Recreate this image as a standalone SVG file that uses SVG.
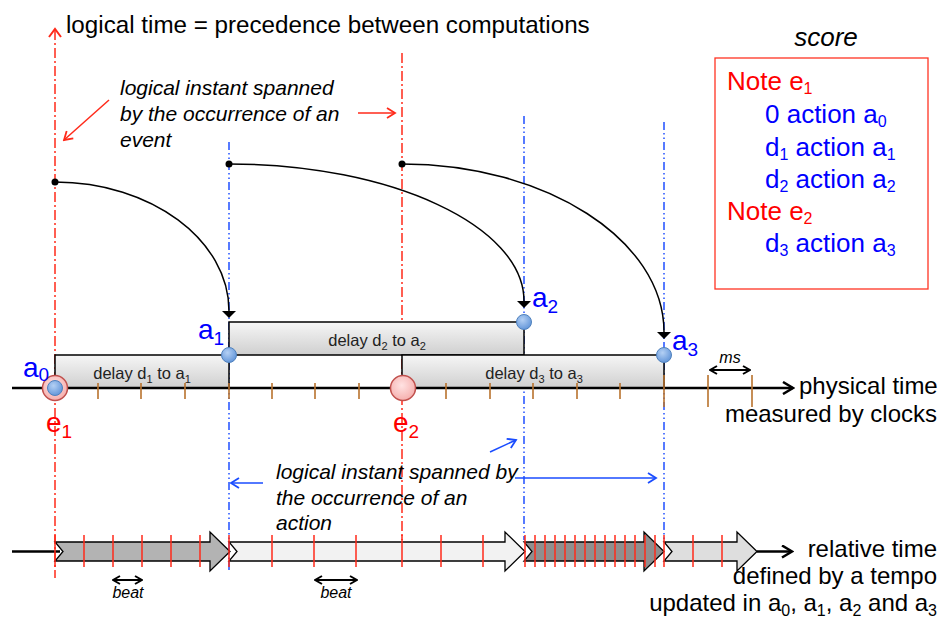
<svg xmlns="http://www.w3.org/2000/svg" width="941" height="621" viewBox="0 0 941 621">
<defs>
<style>
text{font-family:"Liberation Sans",Arial,sans-serif;}
.it{font-style:italic;}
.rdash{stroke:#ff2a1a;stroke-width:1.5;stroke-dasharray:10 3 2 3;fill:none;}
.bdash{stroke:#1f4fff;stroke-width:1.5;stroke-dasharray:8 3 1.5 3 1.5 3;fill:none;}
.ptick{stroke:#b8722c;stroke-width:1.6;}
.rtick{stroke:#ff2a1a;stroke-width:1.5;}
.delay{fill:url(#gDelay);stroke:#000;stroke-width:1.5;}
.blk{stroke:#000;stroke-width:1.3;}
.curve{fill:none;stroke:#000;stroke-width:1.5;}
.red{fill:#ff0000;}
.blue{fill:#0000ff;}
</style>
<linearGradient id="gDelay" x1="0" y1="0" x2="0" y2="1"><stop offset="0" stop-color="#f6f6f6"/><stop offset="1" stop-color="#cfcfcf"/></linearGradient>
<radialGradient id="gBlue" cx="0.4" cy="0.35" r="0.7"><stop offset="0" stop-color="#b4d0f4"/><stop offset="1" stop-color="#5f93d8"/></radialGradient>
<radialGradient id="gPink" cx="0.45" cy="0.4" r="0.7"><stop offset="0" stop-color="#ffe2e2"/><stop offset="1" stop-color="#f4a7a5"/></radialGradient>
<marker id="hK" viewBox="0 0 14 14" refX="12" refY="7" markerWidth="14" markerHeight="14" markerUnits="userSpaceOnUse" orient="auto-start-reverse"><path d="M2,1 L12,7 L2,13" fill="none" stroke="#000" stroke-width="2.5"/></marker>
<marker id="hKs" viewBox="0 0 10 10" refX="9" refY="5" markerWidth="10" markerHeight="10" markerUnits="userSpaceOnUse" orient="auto-start-reverse"><path d="M2,1 L9,5 L2,9" fill="none" stroke="#000" stroke-width="2"/></marker>
<marker id="hR" viewBox="0 0 12 12" refX="10" refY="6" markerWidth="12" markerHeight="12" markerUnits="userSpaceOnUse" orient="auto"><path d="M2,1 L10,6 L2,11" fill="none" stroke="#ff2a1a" stroke-width="1.8"/></marker>
<marker id="hB" viewBox="0 0 12 12" refX="10" refY="6" markerWidth="12" markerHeight="12" markerUnits="userSpaceOnUse" orient="auto"><path d="M2,1 L10,6 L2,11" fill="none" stroke="#1a4cff" stroke-width="1.8"/></marker>
</defs>
<rect width="941" height="621" fill="#fff"/>

<g id="vertical-lines">
<line class="rdash" x1="55" y1="30" x2="55" y2="578"/>
<polyline points="49,37 55,29 61,37" fill="none" stroke="#ff2a1a" stroke-width="2"/>
<line class="bdash" x1="229" y1="142" x2="229" y2="571"/>
<line class="rdash" x1="402" y1="53" x2="402" y2="540"/>
<line class="bdash" x1="524" y1="116" x2="524" y2="540"/>
<line class="bdash" x1="664" y1="122" x2="664" y2="540"/>
</g>

<g id="relative-time-axis">
<line x1="12" y1="551.5" x2="60" y2="551.5" stroke="#000" stroke-width="2.5"/>
<path class="blk" fill="#b3b3b3" d="M55,542 L210,542 L210,532 L230,551.5 L210,571 L210,561 L55,561 L63,551.5 Z"/>
<path class="blk" fill="#f2f2f2" d="M229,542 L505,542 L505,532 L525,551.5 L505,571 L505,561 L229,561 L237,551.5 Z"/>
<path class="blk" fill="#8f8f8f" d="M524,542 L644,542 L644,532 L664,551.5 L644,571 L644,561 L524,561 L532,551.5 Z"/>
<path class="blk" fill="#dedede" d="M664,542 L737,542 L737,532 L757,551.5 L737,571 L737,561 L664,561 L672,551.5 Z"/>
<line x1="757" y1="551.5" x2="792" y2="551.5" stroke="#000" stroke-width="2.5" marker-end="url(#hK)"/>
<g id="beat-ticks">
<line class="rtick" x1="55" y1="535" x2="55" y2="567"/>
<line class="rtick" x1="84" y1="535" x2="84" y2="567"/>
<line class="rtick" x1="113" y1="535" x2="113" y2="567"/>
<line class="rtick" x1="142" y1="535" x2="142" y2="567"/>
<line class="rtick" x1="171" y1="535" x2="171" y2="567"/>
<line class="rtick" x1="200" y1="535" x2="200" y2="567"/>
<line class="rtick" x1="229" y1="535" x2="229" y2="567"/>
<line class="rtick" x1="272" y1="535" x2="272" y2="567"/>
<line class="rtick" x1="314" y1="535" x2="314" y2="567"/>
<line class="rtick" x1="356" y1="535" x2="356" y2="567"/>
<line class="rtick" x1="402" y1="535" x2="402" y2="567"/>
<line class="rtick" x1="441" y1="535" x2="441" y2="567"/>
<line class="rtick" x1="483" y1="535" x2="483" y2="567"/>
<line class="rtick" x1="525" y1="535" x2="525" y2="567"/>
<line class="rtick" x1="535" y1="535" x2="535" y2="567"/>
<line class="rtick" x1="545" y1="535" x2="545" y2="567"/>
<line class="rtick" x1="555" y1="535" x2="555" y2="567"/>
<line class="rtick" x1="565" y1="535" x2="565" y2="567"/>
<line class="rtick" x1="575" y1="535" x2="575" y2="567"/>
<line class="rtick" x1="585" y1="535" x2="585" y2="567"/>
<line class="rtick" x1="595" y1="535" x2="595" y2="567"/>
<line class="rtick" x1="605" y1="535" x2="605" y2="567"/>
<line class="rtick" x1="615" y1="535" x2="615" y2="567"/>
<line class="rtick" x1="625" y1="535" x2="625" y2="567"/>
<line class="rtick" x1="635" y1="535" x2="635" y2="567"/>
<line class="rtick" x1="645" y1="535" x2="645" y2="567"/>
<line class="rtick" x1="655" y1="535" x2="655" y2="567"/>
<line class="rtick" x1="664" y1="535" x2="664" y2="567"/>
<line class="rtick" x1="693" y1="535" x2="693" y2="567"/>
<line class="rtick" x1="722" y1="535" x2="722" y2="567"/>
</g>
<line x1="113" y1="580" x2="142" y2="580" stroke="#000" stroke-width="2" marker-start="url(#hKs)" marker-end="url(#hKs)"/>
<text class="it" x="128" y="598" font-size="16" text-anchor="middle">beat</text>
<line x1="315" y1="580" x2="357" y2="580" stroke="#000" stroke-width="2" marker-start="url(#hKs)" marker-end="url(#hKs)"/>
<text class="it" x="336" y="598" font-size="16" text-anchor="middle">beat</text>
<text x="937" y="557" font-size="24" text-anchor="end">relative time</text>
<text x="937" y="584" font-size="24" text-anchor="end">defined by a tempo</text>
<text x="937" y="611" font-size="24" text-anchor="end">updated in a<tspan font-size="16" dy="5">0</tspan><tspan dy="-5">, a</tspan><tspan font-size="16" dy="5">1</tspan><tspan dy="-5">, a</tspan><tspan font-size="16" dy="5">2</tspan><tspan dy="-5"> and a</tspan><tspan font-size="16" dy="5">3</tspan></text>
</g>

<g id="delay-d1">
<rect class="delay" x="55" y="355" width="174" height="33"/>
<text x="142" y="379" font-size="16.5" text-anchor="middle" fill="#222">delay d<tspan font-size="11" dy="4">1</tspan><tspan dy="-4"> to a</tspan><tspan font-size="11" dy="4">1</tspan></text>
</g>
<g id="delay-d2">
<rect class="delay" x="229" y="322" width="295" height="33"/>
<text x="377" y="346" font-size="16.5" text-anchor="middle" fill="#222">delay d<tspan font-size="11" dy="4">2</tspan><tspan dy="-4"> to a</tspan><tspan font-size="11" dy="4">2</tspan></text>
</g>
<g id="delay-d3">
<rect class="delay" x="402" y="355" width="262" height="33"/>
<text x="534" y="379" font-size="16.5" text-anchor="middle" fill="#222">delay d<tspan font-size="11" dy="4">3</tspan><tspan dy="-4"> to a</tspan><tspan font-size="11" dy="4">3</tspan></text>
</g>

<g id="physical-time-axis">
<line x1="12" y1="388" x2="793" y2="388" stroke="#000" stroke-width="2.5" marker-end="url(#hK)"/>
<line class="ptick" x1="98" y1="383" x2="98" y2="399"/>
<line class="ptick" x1="141" y1="383" x2="141" y2="399"/>
<line class="ptick" x1="185" y1="383" x2="185" y2="399"/>
<line class="ptick" x1="229" y1="383" x2="229" y2="399"/>
<line class="ptick" x1="272" y1="383" x2="272" y2="399"/>
<line class="ptick" x1="315" y1="383" x2="315" y2="399"/>
<line class="ptick" x1="359" y1="383" x2="359" y2="399"/>
<line class="ptick" x1="446" y1="383" x2="446" y2="399"/>
<line class="ptick" x1="490" y1="383" x2="490" y2="399"/>
<line class="ptick" x1="533" y1="383" x2="533" y2="399"/>
<line class="ptick" x1="577" y1="383" x2="577" y2="399"/>
<line class="ptick" x1="620" y1="383" x2="620" y2="399"/>
<line class="ptick" x1="664" y1="375" x2="664" y2="407"/>
<line class="ptick" x1="708" y1="375" x2="708" y2="407"/>
<line class="ptick" x1="752" y1="375" x2="752" y2="407"/>
<line x1="710" y1="370" x2="750" y2="370" stroke="#000" stroke-width="2" marker-start="url(#hKs)" marker-end="url(#hKs)"/>
<text class="it" x="730" y="363" font-size="16" text-anchor="middle">ms</text>
<text x="799" y="394" font-size="24">physical time</text>
<text x="937" y="422" font-size="24" text-anchor="end">measured by clocks</text>
</g>

<g id="connectors">
<path class="curve" d="M55,182 C151,182 229,240 229,311"/>
<polygon points="222,311 236,311 229,318" fill="#000"/>
<circle cx="55" cy="182" r="3.5" fill="#000"/>
<path class="curve" d="M229,164 C391,164 524,226 524,301"/>
<polygon points="517,301 531,301 524,308" fill="#000"/>
<circle cx="229" cy="164" r="3.5" fill="#000"/>
<path class="curve" d="M402,164 C546,164 664,240 664,332"/>
<polygon points="657,332 671,332 664,339" fill="#000"/>
<circle cx="402" cy="164" r="3.5" fill="#000"/>
<line x1="109" y1="100" x2="64" y2="140" stroke="#ff2a1a" stroke-width="1.5" marker-end="url(#hR)"/>
<line x1="358" y1="113" x2="395" y2="113" stroke="#ff2a1a" stroke-width="1.5" marker-end="url(#hR)"/>
<line x1="263" y1="483" x2="231" y2="483" stroke="#1a4cff" stroke-width="1.5" marker-end="url(#hB)"/>
<line x1="490" y1="452" x2="516" y2="440" stroke="#1a4cff" stroke-width="1.5" marker-end="url(#hB)"/>
<line x1="515" y1="478" x2="656" y2="478" stroke="#1a4cff" stroke-width="1.5" marker-end="url(#hB)"/>
</g>

<g id="e1">
<circle cx="55" cy="388" r="12.5" fill="url(#gPink)" stroke="#c0504d" stroke-width="1.5"/>
<text class="red" x="46" y="432" font-size="28">e<tspan font-size="19" dy="6">1</tspan></text>
</g>
<g id="a0">
<circle cx="55" cy="388" r="7.5" fill="url(#gBlue)" stroke="#4f81bd" stroke-width="1"/>
<text class="blue" x="23" y="377" font-size="28">a<tspan font-size="19" dy="4">0</tspan></text>
</g>
<g id="e2">
<circle cx="403" cy="388" r="12.5" fill="url(#gPink)" stroke="#c0504d" stroke-width="1.5"/>
<text class="red" x="393" y="432" font-size="28">e<tspan font-size="19" dy="6">2</tspan></text>
</g>
<g id="a1">
<circle cx="229" cy="355" r="7.5" fill="url(#gBlue)" stroke="#4f81bd" stroke-width="1"/>
<text class="blue" x="198" y="339" font-size="28">a<tspan font-size="19" dy="6">1</tspan></text>
</g>
<g id="a2">
<circle cx="524" cy="322" r="7.5" fill="url(#gBlue)" stroke="#4f81bd" stroke-width="1"/>
<text class="blue" x="532" y="307" font-size="28">a<tspan font-size="19" dy="6">2</tspan></text>
</g>
<g id="a3">
<circle cx="664" cy="355" r="7.5" fill="url(#gBlue)" stroke="#4f81bd" stroke-width="1"/>
<text class="blue" x="672" y="350" font-size="28">a<tspan font-size="19" dy="6">3</tspan></text>
</g>

<g id="annotations">
<text x="66" y="33" font-size="24.2">logical time = precedence between computations</text>
<text class="it" font-size="21"><tspan x="120" y="95">logical instant spanned</tspan><tspan x="120" y="121">by the occurrence of an</tspan><tspan x="120" y="147">event</tspan></text>
<text class="it" font-size="21"><tspan x="276" y="479">logical instant spanned by</tspan><tspan x="276" y="504.5">the occurrence of an</tspan><tspan x="276" y="530">action</tspan></text>
</g>

<g id="score">
<text class="it" x="826" y="46" font-size="26" text-anchor="middle">score</text>
<rect x="715" y="58" width="213" height="231" fill="none" stroke="#ff3322" stroke-width="1.3"/>
<text class="red" x="727" y="90" font-size="26">Note e<tspan font-size="16" dy="4">1</tspan></text>
<text class="blue" x="765" y="123" font-size="26">0 action a<tspan font-size="16" dy="4">0</tspan></text>
<text class="blue" x="765" y="156" font-size="26">d<tspan font-size="16" dy="4">1</tspan><tspan dy="-4"> action a</tspan><tspan font-size="16" dy="4">1</tspan></text>
<text class="blue" x="765" y="188" font-size="26">d<tspan font-size="16" dy="4">2</tspan><tspan dy="-4"> action a</tspan><tspan font-size="16" dy="4">2</tspan></text>
<text class="red" x="727" y="220" font-size="26">Note e<tspan font-size="16" dy="4">2</tspan></text>
<text class="blue" x="765" y="252" font-size="26">d<tspan font-size="16" dy="4">3</tspan><tspan dy="-4"> action a</tspan><tspan font-size="16" dy="4">3</tspan></text>
</g>
</svg>
